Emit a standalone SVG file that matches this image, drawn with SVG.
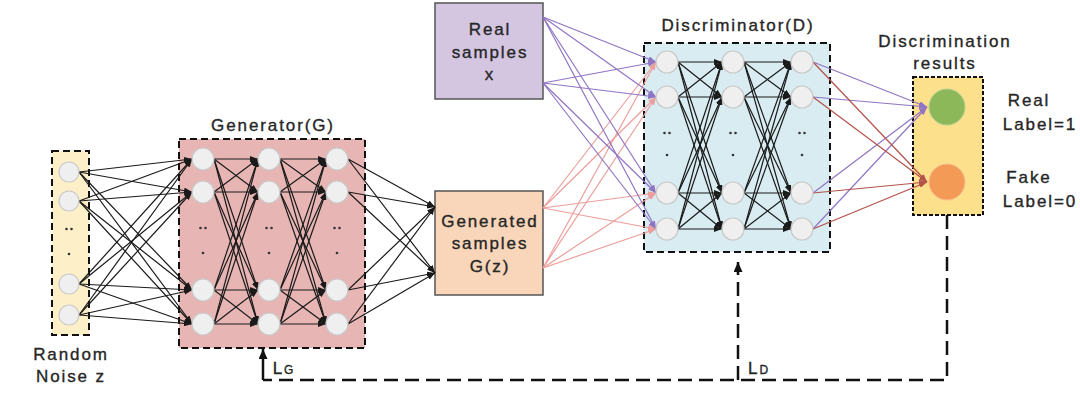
<svg xmlns="http://www.w3.org/2000/svg" width="1080" height="402" viewBox="0 0 1080 402">
<style>
text{font-family:"Liberation Sans",Arial,sans-serif;font-size:17px;fill:#262626;stroke:#262626;stroke-width:0.35px;letter-spacing:1.9px;text-anchor:middle}
.frame{stroke:#111;stroke-width:2;stroke-dasharray:7 4}
.n{fill:#efefef;stroke:#c9c9c9;stroke-width:1.2}
.k line{stroke:#1a1a1a;stroke-width:1.2;marker-end:url(#ak)}
.p line{stroke:#9075c4;stroke-width:1.2;marker-end:url(#ap)}
.r line{stroke:#ec9f9c;stroke-width:1.2;marker-end:url(#ar)}
.d line{stroke:#b4524b;stroke-width:1.2;marker-end:url(#ad)}
.fb{fill:none;stroke:#111;stroke-width:2.5;stroke-dasharray:14 7}
.dot{fill:#333}
</style>
<defs>
<marker id="ak" markerUnits="userSpaceOnUse" markerWidth="8" markerHeight="6" refX="8" refY="3" orient="auto"><path d="M0,0 L8,3 L0,6 z" fill="#1a1a1a"/></marker>
<marker id="ap" markerUnits="userSpaceOnUse" markerWidth="8" markerHeight="6" refX="8" refY="3" orient="auto"><path d="M0,0 L8,3 L0,6 z" fill="#9075c4"/></marker>
<marker id="ar" markerUnits="userSpaceOnUse" markerWidth="8" markerHeight="6" refX="8" refY="3" orient="auto"><path d="M0,0 L8,3 L0,6 z" fill="#ec9f9c"/></marker>
<marker id="ad" markerUnits="userSpaceOnUse" markerWidth="8" markerHeight="6" refX="8" refY="3" orient="auto"><path d="M0,0 L8,3 L0,6 z" fill="#b4524b"/></marker>
<marker id="up" markerUnits="userSpaceOnUse" markerWidth="10" markerHeight="10" refX="10" refY="4.5" orient="auto"><path d="M0,0 L10,4.5 L0,9 z" fill="#111"/></marker>
</defs>
<rect width="1080" height="402" fill="#fff"/>

<g id="noise-layer">
<rect x="52" y="151" width="37" height="184" fill="#fdf0c9" class="frame"/>
<circle class="dot" cx="66.5" cy="229" r="1.3"/><circle class="dot" cx="71.5" cy="229" r="1.3"/><circle class="dot" cx="69" cy="254" r="1.3"/>
<text x="71" y="360">Random</text>
<text x="71" y="382">Noise z</text>
</g>
<g id="generator">
<rect x="179" y="139" width="186" height="209" fill="#e7b6b4" class="frame"/>
<text x="273" y="131">Generator(G)</text>
<circle class="dot" cx="200.5" cy="228" r="1.3"/><circle class="dot" cx="205.5" cy="228" r="1.3"/><circle class="dot" cx="203" cy="253" r="1.3"/>
<circle class="dot" cx="266.5" cy="228" r="1.3"/><circle class="dot" cx="271.5" cy="228" r="1.3"/><circle class="dot" cx="269" cy="253" r="1.3"/>
<circle class="dot" cx="334.5" cy="228" r="1.3"/><circle class="dot" cx="339.5" cy="228" r="1.3"/><circle class="dot" cx="337" cy="253" r="1.3"/>
</g>
<g id="real-samples">
<rect x="435" y="3" width="108" height="96" fill="#d4c6e1" stroke="#555" stroke-width="1.5"/>
<text x="490" y="35">Real</text>
<text x="490" y="58">samples</text>
<text x="490" y="80">x</text>
</g>
<g id="generated-samples">
<rect x="435" y="191" width="108" height="104" fill="#f9d6ba" stroke="#555" stroke-width="1.5"/>
<text x="490" y="227">Generated</text>
<text x="490" y="249">samples</text>
<text x="490" y="272">G(z)</text>
</g>
<g id="discriminator">
<rect x="644" y="43" width="186" height="209" fill="#d8ecf2" class="frame"/>
<text x="738" y="31">Discriminator(D)</text>
<circle class="dot" cx="664.5" cy="133" r="1.3"/><circle class="dot" cx="669.5" cy="133" r="1.3"/><circle class="dot" cx="667" cy="155" r="1.3"/>
<circle class="dot" cx="730.5" cy="133" r="1.3"/><circle class="dot" cx="735.5" cy="133" r="1.3"/><circle class="dot" cx="733" cy="155" r="1.3"/>
<circle class="dot" cx="799.5" cy="133" r="1.3"/><circle class="dot" cx="804.5" cy="133" r="1.3"/><circle class="dot" cx="802" cy="155" r="1.3"/>
</g>
<g id="results">
<rect x="913" y="77" width="70" height="138" fill="#fde08c" stroke="#111" stroke-width="2" stroke-dasharray="4 2"/>
<text x="945" y="47">Discrimination</text>
<text x="945" y="69">results</text>
<circle cx="947" cy="107" r="18" fill="#8db85a" stroke="#b3d08e" stroke-width="1"/>
<circle cx="947" cy="182" r="18" fill="#f49a57" stroke="#f7bd90" stroke-width="1"/>
<text x="1029" y="106">Real</text>
<text x="1040" y="130">Label=1</text>
<text x="1029" y="183">Fake</text>
<text x="1040" y="207">Label=0</text>
</g>

<g id="connectors">
<g class="k">
<line x1="79" y1="172" x2="192" y2="159"/><line x1="79" y1="172" x2="192" y2="192"/><line x1="79" y1="172" x2="192" y2="290"/><line x1="79" y1="172" x2="192" y2="324"/>
<line x1="79" y1="201" x2="192" y2="159"/><line x1="79" y1="201" x2="192" y2="192"/><line x1="79" y1="201" x2="192" y2="290"/><line x1="79" y1="201" x2="192" y2="324"/>
<line x1="79" y1="284" x2="192" y2="159"/><line x1="79" y1="284" x2="192" y2="192"/><line x1="79" y1="284" x2="192" y2="290"/><line x1="79" y1="284" x2="192" y2="324"/>
<line x1="79" y1="315" x2="192" y2="159"/><line x1="79" y1="315" x2="192" y2="192"/><line x1="79" y1="315" x2="192" y2="290"/><line x1="79" y1="315" x2="192" y2="324"/>

<line x1="214" y1="159" x2="258" y2="159"/><line x1="214" y1="159" x2="258" y2="192"/><line x1="214" y1="159" x2="258" y2="290"/><line x1="214" y1="159" x2="258" y2="324"/>
<line x1="214" y1="192" x2="258" y2="159"/><line x1="214" y1="192" x2="258" y2="192"/><line x1="214" y1="192" x2="258" y2="290"/><line x1="214" y1="192" x2="258" y2="324"/>
<line x1="214" y1="290" x2="258" y2="159"/><line x1="214" y1="290" x2="258" y2="192"/><line x1="214" y1="290" x2="258" y2="290"/><line x1="214" y1="290" x2="258" y2="324"/>
<line x1="214" y1="324" x2="258" y2="159"/><line x1="214" y1="324" x2="258" y2="192"/><line x1="214" y1="324" x2="258" y2="290"/><line x1="214" y1="324" x2="258" y2="324"/>

<line x1="280" y1="159" x2="326" y2="159"/><line x1="280" y1="159" x2="326" y2="192"/><line x1="280" y1="159" x2="326" y2="290"/><line x1="280" y1="159" x2="326" y2="324"/>
<line x1="280" y1="192" x2="326" y2="159"/><line x1="280" y1="192" x2="326" y2="192"/><line x1="280" y1="192" x2="326" y2="290"/><line x1="280" y1="192" x2="326" y2="324"/>
<line x1="280" y1="290" x2="326" y2="159"/><line x1="280" y1="290" x2="326" y2="192"/><line x1="280" y1="290" x2="326" y2="290"/><line x1="280" y1="290" x2="326" y2="324"/>
<line x1="280" y1="324" x2="326" y2="159"/><line x1="280" y1="324" x2="326" y2="192"/><line x1="280" y1="324" x2="326" y2="290"/><line x1="280" y1="324" x2="326" y2="324"/>

<line x1="348" y1="159" x2="435" y2="207"/><line x1="348" y1="159" x2="435" y2="273"/>
<line x1="348" y1="192" x2="435" y2="207"/><line x1="348" y1="192" x2="435" y2="273"/>
<line x1="348" y1="290" x2="435" y2="207"/><line x1="348" y1="290" x2="435" y2="273"/>
<line x1="348" y1="324" x2="435" y2="207"/><line x1="348" y1="324" x2="435" y2="273"/>

<line x1="678" y1="62" x2="722" y2="62"/><line x1="678" y1="62" x2="722" y2="97"/><line x1="678" y1="62" x2="722" y2="193"/><line x1="678" y1="62" x2="722" y2="229"/>
<line x1="678" y1="97" x2="722" y2="62"/><line x1="678" y1="97" x2="722" y2="97"/><line x1="678" y1="97" x2="722" y2="193"/><line x1="678" y1="97" x2="722" y2="229"/>
<line x1="678" y1="193" x2="722" y2="62"/><line x1="678" y1="193" x2="722" y2="97"/><line x1="678" y1="193" x2="722" y2="193"/><line x1="678" y1="193" x2="722" y2="229"/>
<line x1="678" y1="229" x2="722" y2="62"/><line x1="678" y1="229" x2="722" y2="97"/><line x1="678" y1="229" x2="722" y2="193"/><line x1="678" y1="229" x2="722" y2="229"/>

<line x1="744" y1="62" x2="791" y2="62"/><line x1="744" y1="62" x2="791" y2="97"/><line x1="744" y1="62" x2="791" y2="193"/><line x1="744" y1="62" x2="791" y2="229"/>
<line x1="744" y1="97" x2="791" y2="62"/><line x1="744" y1="97" x2="791" y2="97"/><line x1="744" y1="97" x2="791" y2="193"/><line x1="744" y1="97" x2="791" y2="229"/>
<line x1="744" y1="193" x2="791" y2="62"/><line x1="744" y1="193" x2="791" y2="97"/><line x1="744" y1="193" x2="791" y2="193"/><line x1="744" y1="193" x2="791" y2="229"/>
<line x1="744" y1="229" x2="791" y2="62"/><line x1="744" y1="229" x2="791" y2="97"/><line x1="744" y1="229" x2="791" y2="193"/><line x1="744" y1="229" x2="791" y2="229"/>
</g>
<g class="r">
<line x1="543" y1="208" x2="656" y2="62"/><line x1="543" y1="208" x2="656" y2="97"/><line x1="543" y1="208" x2="656" y2="193"/><line x1="543" y1="208" x2="656" y2="229"/>
<line x1="543" y1="268" x2="656" y2="62"/><line x1="543" y1="268" x2="656" y2="97"/><line x1="543" y1="268" x2="656" y2="193"/><line x1="543" y1="268" x2="656" y2="229"/>
</g>
<g class="p">
<line x1="543" y1="17" x2="656" y2="62"/><line x1="543" y1="17" x2="656" y2="97"/><line x1="543" y1="17" x2="656" y2="193"/><line x1="543" y1="17" x2="656" y2="229"/>
<line x1="543" y1="83" x2="656" y2="62"/><line x1="543" y1="83" x2="656" y2="97"/><line x1="543" y1="83" x2="656" y2="193"/><line x1="543" y1="83" x2="656" y2="229"/>
<line x1="813" y1="62" x2="927" y2="107"/><line x1="813" y1="97" x2="927" y2="107"/><line x1="813" y1="193" x2="927" y2="107"/><line x1="813" y1="229" x2="927" y2="107"/>
</g>
<g class="d">
<line x1="813" y1="62" x2="927" y2="182"/><line x1="813" y1="97" x2="927" y2="182"/><line x1="813" y1="193" x2="927" y2="182"/><line x1="813" y1="229" x2="927" y2="182"/>
</g>
<path class="fb" d="M947,215 V380 H263"/>
<path d="M263,380 V349" fill="none" stroke="#111" stroke-width="2.5" marker-end="url(#up)"/>
<path class="fb" d="M738,380 V262" marker-end="url(#up)"/>
<text x="284" y="374">L<tspan font-size="12px">G</tspan></text>
<text x="759" y="374">L<tspan font-size="12px">D</tspan></text>
</g>

<g id="noise-nodes">
<circle class="n" cx="69" cy="172" r="10"/><circle class="n" cx="69" cy="201" r="10"/><circle class="n" cx="69" cy="284" r="10"/><circle class="n" cx="69" cy="315" r="10"/>
</g>
<g id="generator-nodes">
<circle class="n" cx="203" cy="159" r="11"/><circle class="n" cx="203" cy="192" r="11"/><circle class="n" cx="203" cy="290" r="11"/><circle class="n" cx="203" cy="324" r="11"/>
<circle class="n" cx="269" cy="159" r="11"/><circle class="n" cx="269" cy="192" r="11"/><circle class="n" cx="269" cy="290" r="11"/><circle class="n" cx="269" cy="324" r="11"/>
<circle class="n" cx="337" cy="159" r="11"/><circle class="n" cx="337" cy="192" r="11"/><circle class="n" cx="337" cy="290" r="11"/><circle class="n" cx="337" cy="324" r="11"/>
</g>
<g id="discriminator-nodes">
<circle class="n" cx="667" cy="62" r="11"/><circle class="n" cx="667" cy="97" r="11"/><circle class="n" cx="667" cy="193" r="11"/><circle class="n" cx="667" cy="229" r="11"/>
<circle class="n" cx="733" cy="62" r="11"/><circle class="n" cx="733" cy="97" r="11"/><circle class="n" cx="733" cy="193" r="11"/><circle class="n" cx="733" cy="229" r="11"/>
<circle class="n" cx="802" cy="62" r="11"/><circle class="n" cx="802" cy="97" r="11"/><circle class="n" cx="802" cy="193" r="11"/><circle class="n" cx="802" cy="229" r="11"/>
</g>
</svg>
